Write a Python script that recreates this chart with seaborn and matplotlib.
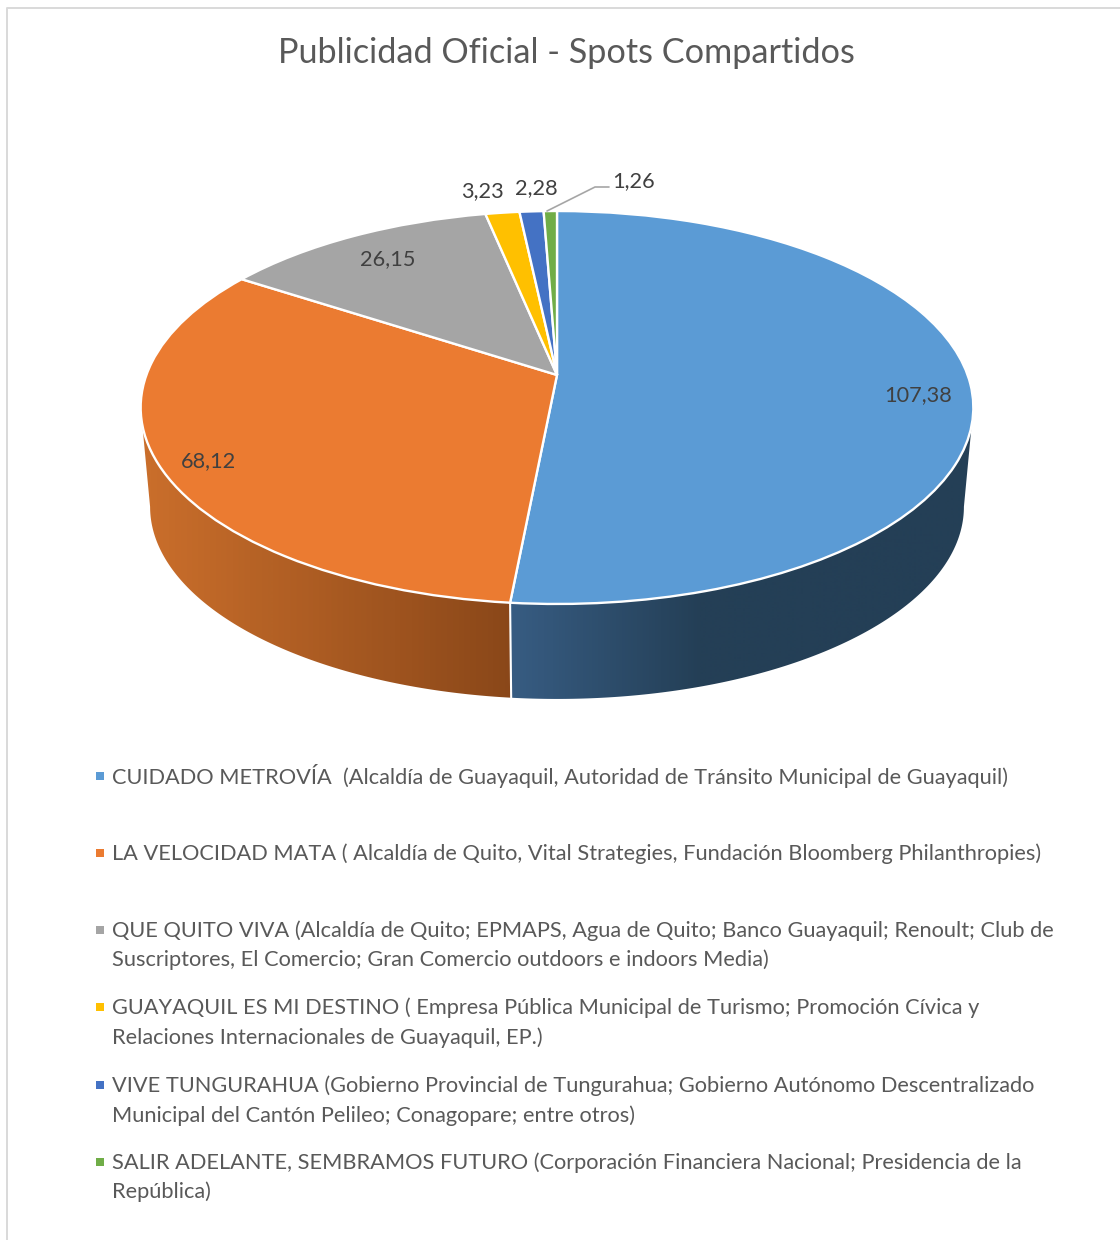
import numpy as np
import seaborn as sns
import matplotlib
matplotlib.use('Agg')
import matplotlib.pyplot as plt
from matplotlib.patches import Polygon
from matplotlib.transforms import Transform

titulo = 'Publicidad Oficial - Spots Compartidos'
valores = [107.38, 68.12, 26.15, 3.23, 2.28, 1.26]
etiquetas = [
    ['CUIDADO METROVÍA  (Alcaldía de Guayaquil, Autoridad de Tránsito Municipal de Guayaquil)'],
    ['LA VELOCIDAD MATA ( Alcaldía de Quito, Vital Strategies, Fundación Bloomberg Philanthropies)'],
    ['QUE QUITO VIVA (Alcaldía de Quito; EPMAPS, Agua de Quito; Banco Guayaquil; Renoult; Club de',
     'Suscriptores, El Comercio; Gran Comercio outdoors e indoors Media)'],
    ['GUAYAQUIL ES MI DESTINO ( Empresa Pública Municipal de Turismo; Promoción Cívica y',
     'Relaciones Internacionales de Guayaquil, EP.)'],
    ['VIVE TUNGURAHUA (Gobierno Provincial de Tungurahua; Gobierno Autónomo Descentralizado',
     'Municipal del Cantón Pelileo; Conagopare; entre otros)'],
    ['SALIR ADELANTE, SEMBRAMOS FUTURO (Corporación Financiera Nacional; Presidencia de la',
     'República)'],
]
colores = ['#5B9BD5', '#EB7B31', '#A5A5A5', '#FFC000', '#4472C4', '#70AD47']

# posiciones en pixeles de los textos
pos_valores = [(918, 395), (208, 461), (388, 259), (482, 191), (536, 188), (634, 181)]
y_leyenda = [783.5, 860, 937, 1014, 1092, 1169]
salto = 29.5
k_persp = 0.1654


class Perspectiva(Transform):
    # circulo unidad -> disco visto en perspectiva (pixeles)
    input_dims = 2
    output_dims = 2

    def __init__(self, cx, cy, a, b, k):
        super().__init__()
        self.cx, self.cy, self.a, self.b, self.k = cx, cy, a, b, k

    def transform_non_affine(self, values):
        x, y = np.asarray(values).T
        d = 1 + self.k * y
        return np.column_stack([self.cx + self.a * x / d, self.cy - self.b * y / d])


sns.set_theme(style='white')
plt.rcParams['font.family'] = ['Lato', 'DejaVu Sans']

fig, ax = plt.subplots(figsize=(11.2, 12.4), dpi=100)
fig.subplots_adjust(0, 0, 1, 1)

arriba = Perspectiva(557, 375, 410.6, 191.1, k_persp)
abajo = Perspectiva(557, 475, 401.3, 186.9, k_persp)

cunas, _ = ax.pie(valores, colors=colores, startangle=90, counterclock=False,
                  wedgeprops={'edgecolor': 'white', 'linewidth': 1.7})

for c in cunas:
    c.set_transform(arriba + ax.transData)
    c.set_zorder(3)

# angulo donde el disco alcanza su anchura maxima (silueta de la pared)
t_ext = np.degrees(np.arcsin(k_persp))

# pared lateral con degradado
degradados = {0: (sns.blend_palette(['#375C82', '#243F56'], 64), 511, 700),
              1: (sns.blend_palette(['#C96E2B', '#8A4719'], 64), 145, 511)}
for i, (pal, x0, x1) in degradados.items():
    t1 = max(cunas[i].theta1, -180 + t_ext)
    t2 = min(cunas[i].theta2, -t_ext)
    t = np.radians(np.linspace(t1, t2, 200))
    circ = np.column_stack([np.cos(t), np.sin(t)])
    borde = np.vstack([arriba.transform(circ), abajo.transform(circ)[::-1]])
    xs = np.arange(borde[:, 0].min() - 2, borde[:, 0].max() + 2)
    idx = np.clip(((xs - x0) / (x1 - x0) * 63).astype(int), 0, 63)
    img = np.array(pal)[idx][None, :, :]
    im = ax.imshow(img, extent=[xs[0], xs[-1], 720, 350], aspect='auto', zorder=1)
    im.set_clip_path(Polygon(borde, transform=ax.transData))

ax.set_aspect('auto')
ax.set_xlim(0, 1120)
ax.set_ylim(1240, 0)
ax.axis('off')

# linea blanca entre las dos paredes
t = np.radians(cunas[0].theta1)
punto = np.array([[np.cos(t), np.sin(t)]])
p_up, p_lo = arriba.transform(punto)[0], abajo.transform(punto)[0]
ax.plot([p_up[0], p_lo[0]], [p_up[1], p_lo[1]], color='white', lw=1.5, zorder=2)

# textos
ax.text(566, 53, titulo, fontsize=24.7, color='#595959', ha='center', va='center')
for v, (x, y) in zip(valores, pos_valores):
    ax.text(x, y, f'{v:.2f}'.replace('.', ','), fontsize=15.7, color='#404040',
            ha='center', va='center', zorder=5)

# linea guia del ultimo valor
ax.plot([547, 595, 609], [211, 187, 187], color='#A6A6A6', lw=1.2, zorder=4)

# leyenda
for lineas, y, col in zip(etiquetas, y_leyenda, colores):
    ax.scatter([100], [y - 7.5], marker='s', s=32, color=col, linewidths=0, zorder=5)
    for n, linea in enumerate(lineas):
        ax.text(112.5, y + n * salto, linea, fontsize=15.7, color='#595959',
                ha='left', va='baseline')

# borde del grafico
ax.plot([7, 7, 1120], [1240, 7.5, 7.5], color='#D9D9D9', lw=1.4, clip_on=False)

fig.savefig('out.png', dpi=100, facecolor='white')
